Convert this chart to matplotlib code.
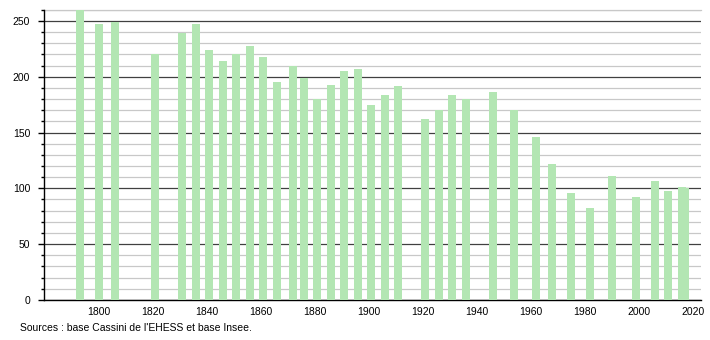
import matplotlib
matplotlib.use("Agg")
import matplotlib.pyplot as plt
from matplotlib.ticker import MultipleLocator

plt.rcParams['font.family'] = ['Liberation Sans', 'DejaVu Sans']

# census years and population
years = [1793, 1800, 1806, 1821, 1831, 1836, 1841, 1846, 1851, 1856,
         1861, 1866, 1872, 1876, 1881, 1886, 1891, 1896, 1901, 1906,
         1911, 1921, 1926, 1931, 1936, 1946, 1954, 1962, 1968, 1975,
         1982, 1990, 1999, 2006, 2011, 2016, 2017]
population = [262, 247, 249, 220, 239, 247, 224, 214, 220, 228,
              218, 195, 210, 199, 180, 193, 205, 207, 175, 184,
              192, 162, 170, 184, 180, 186, 170, 146, 122, 96,
              82, 111, 92, 107, 98, 101, 100]

x_ticks = list(range(1800, 2021, 20))
source = "Sources : base Cassini de l'EHESS et base Insee."

fig = plt.figure(figsize=(7.1, 3.4), dpi=100)
ax = fig.add_axes([0.062, 0.118, 0.925, 0.853])

ax.bar(years, population, width=2.95, color='#b3e6b3', zorder=3)

ax.set_xlim(1779.8, 2023)
ax.set_ylim(0, 260)
ax.set_xticks(x_ticks)
ax.yaxis.set_major_locator(MultipleLocator(50))
ax.yaxis.set_minor_locator(MultipleLocator(10))

ax.grid(axis='y', which='major', color='#404040', linewidth=0.9, zorder=1)
ax.grid(axis='y', which='minor', color='#c8c8c8', linewidth=0.9, zorder=0)
ax.axhline(260, color='#c8c8c8', linewidth=0.9, zorder=0, clip_on=False)

for s in ['top', 'right']:
    ax.spines[s].set_visible(False)
ax.spines['left'].set_linewidth(1.0)
ax.spines['bottom'].set_linewidth(1.0)
ax.set_axisbelow(True)

ax.tick_params(axis='y', which='major', length=4, width=1, labelsize=7.5, pad=6)
ax.tick_params(axis='y', which='minor', length=2, width=1)
ax.tick_params(axis='x', length=0, labelsize=7.5, pad=5)

fig.text(0.028, 0.035, source, fontsize=7.5, ha='left', va='center')

fig.savefig("out.png", dpi=100)
